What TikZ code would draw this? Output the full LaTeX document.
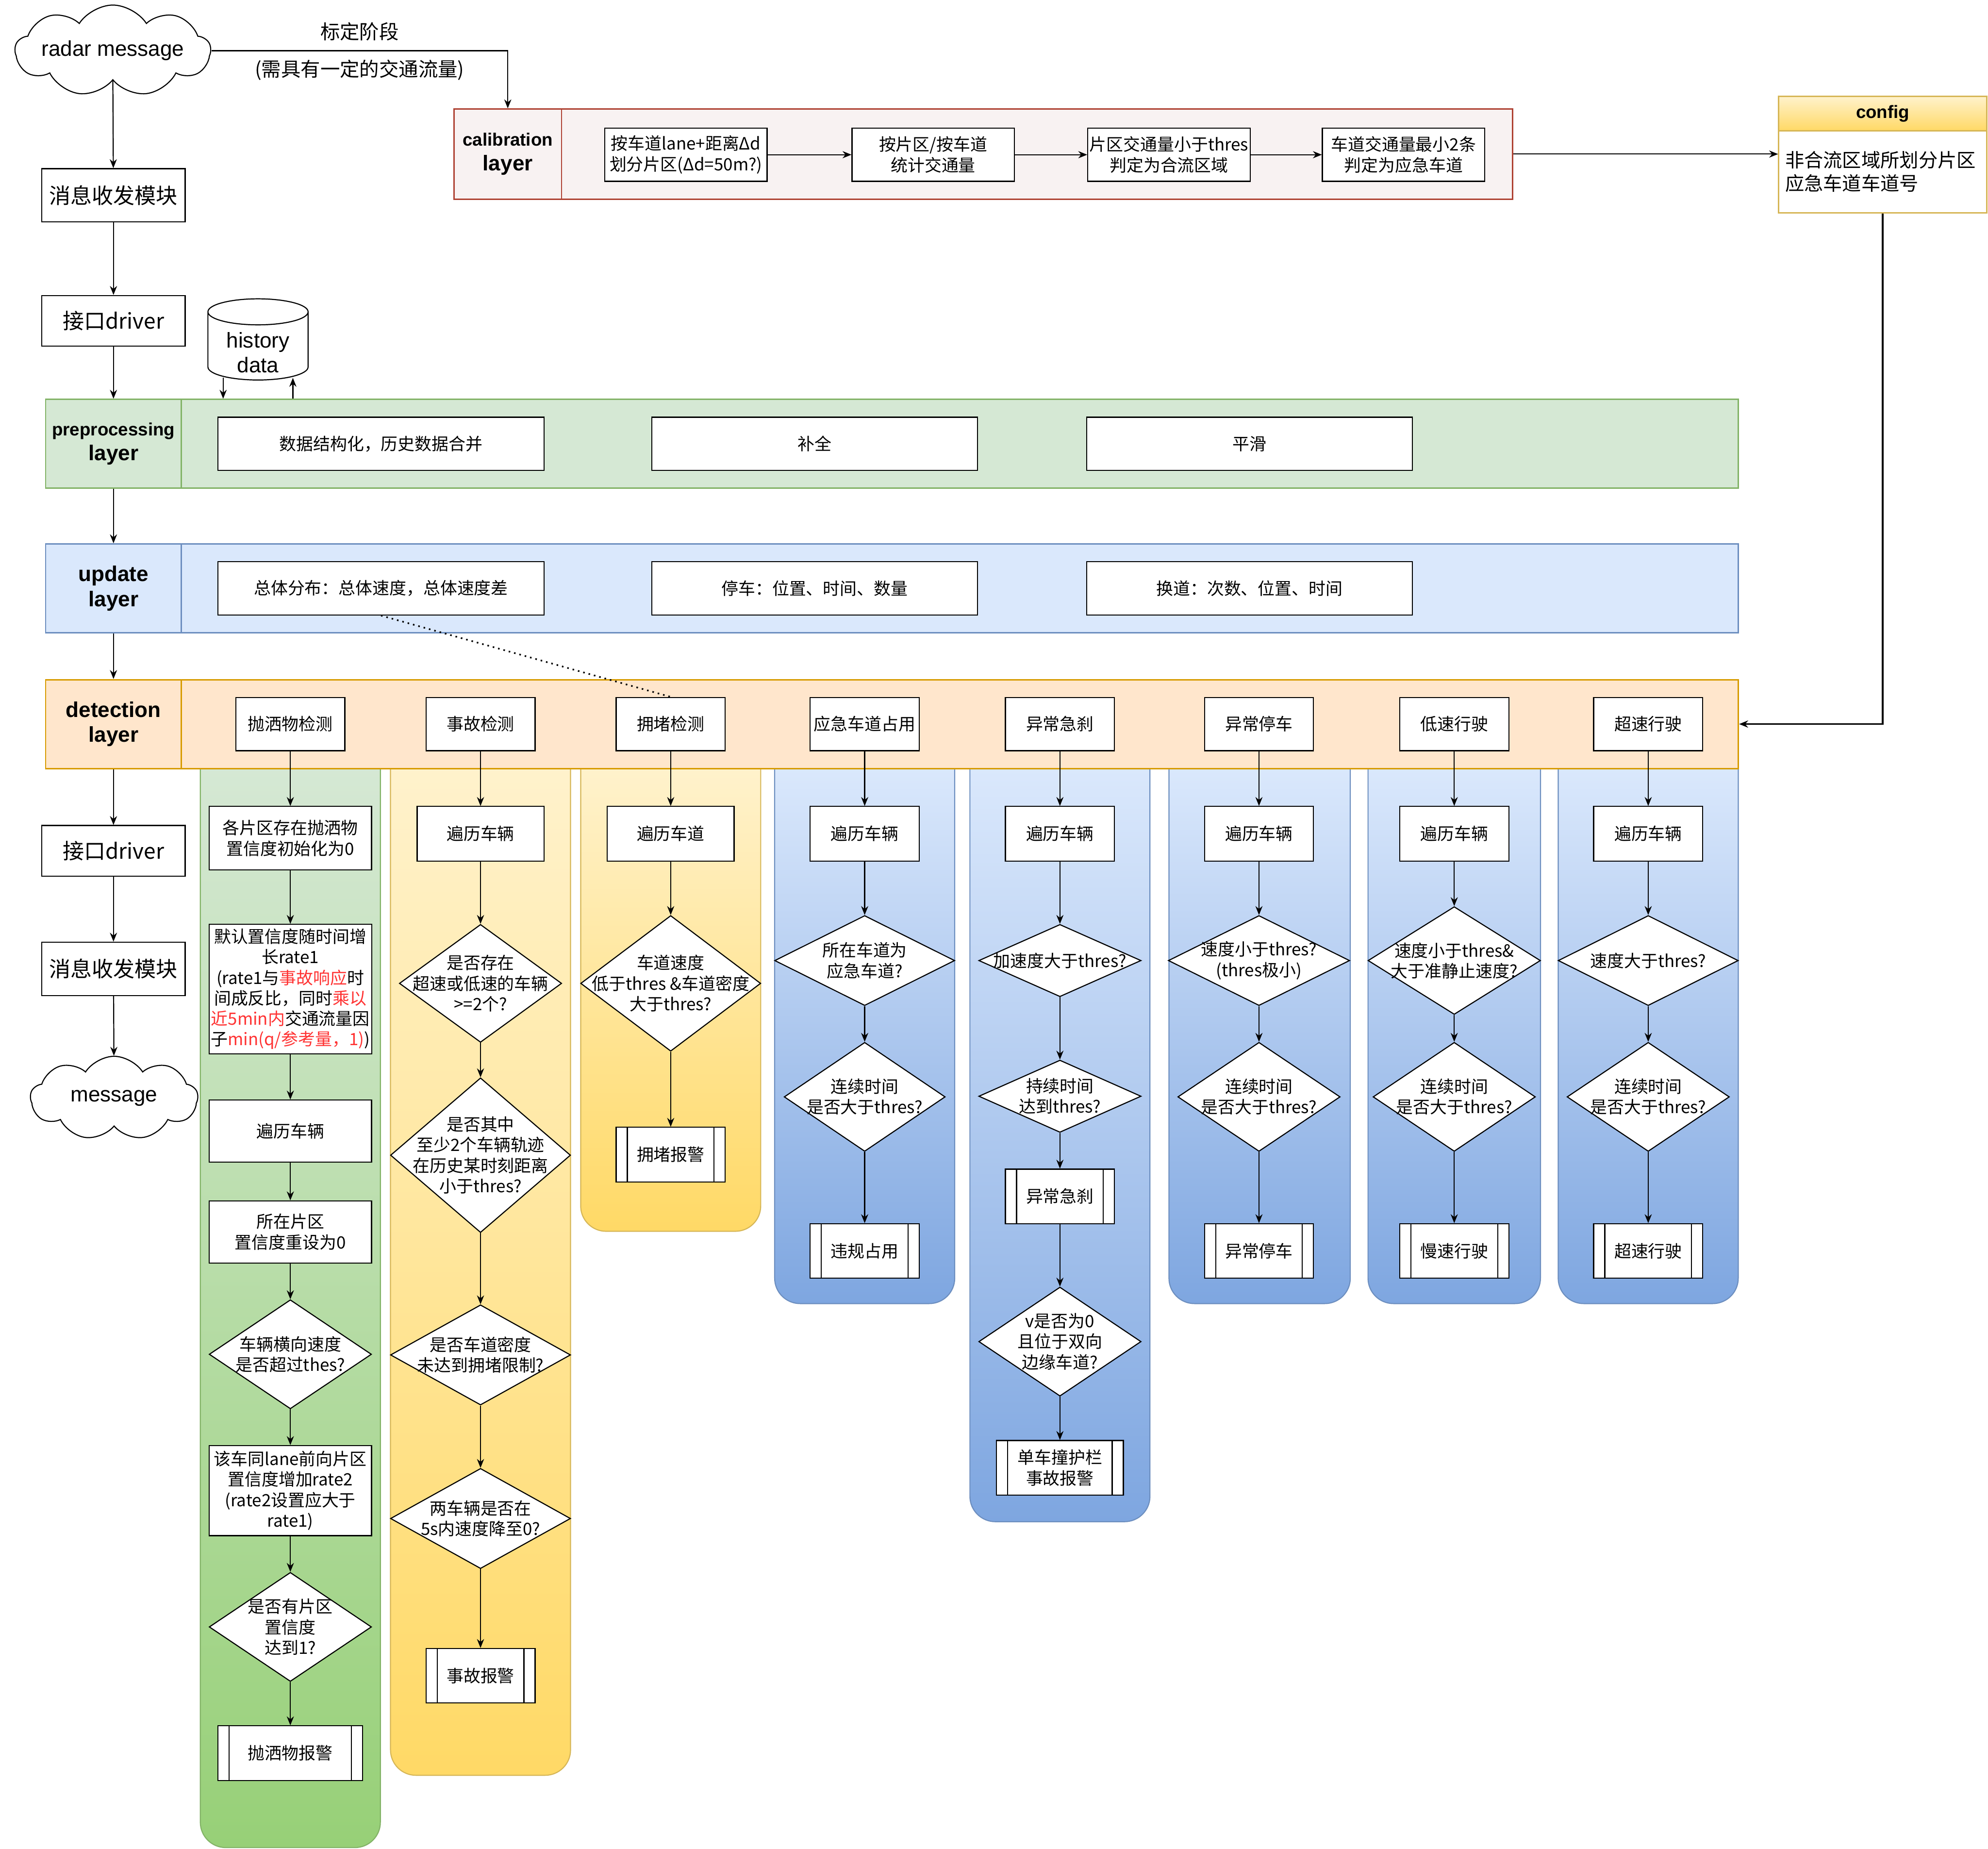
\documentclass[tikz,border=0pt]{standalone}
\usepackage{fontspec}
\setmainfont{Noto Sans CJK SC}
\newfontfamily\arial{Liberation Sans}
\usepackage{xcolor}
\usetikzlibrary{shapes.geometric, shapes.symbols, arrows.meta}
\definecolor{cal-red}{HTML}{AE4132}
\definecolor{cal-fill}{HTML}{F8F2F2}
\definecolor{pre-green}{HTML}{82B366}
\definecolor{pre-fill}{HTML}{D5E8D4}
\definecolor{lane-green}{HTML}{97D077}
\definecolor{upd-blue}{HTML}{6C8EBF}
\definecolor{upd-fill}{HTML}{DAE8FC}
\definecolor{lane-blue}{HTML}{7EA6E0}
\definecolor{det-orange}{HTML}{D79B00}
\definecolor{det-fill}{HTML}{FFE6CC}
\definecolor{cfg-line}{HTML}{D6B656}
\definecolor{cfg-fill}{HTML}{FFF2CC}
\definecolor{lane-yellow}{HTML}{FFD966}
\definecolor{note-red}{HTML}{FF3333}

\begin{document}
\begin{tikzpicture}[x=0.025cm, y=-0.025cm, line width=0.6pt,
    >={Stealth[length=5pt, width=4pt]},
    every node/.style={font=\fontsize{9.5}{11.5}\selectfont},
    box/.style={draw, fill=white, align=center, inner sep=1pt, minimum height=1.05cm},
    alarm/.style={box, minimum height=1.075cm, path picture={
        \draw ([xshift=0.22cm]path picture bounding box.north west) -- ([xshift=0.22cm]path picture bounding box.south west)
              ([xshift=-0.22cm]path picture bounding box.north east) -- ([xshift=-0.22cm]path picture bounding box.south east);}},
    decide/.style={diamond, draw, fill=white, inner sep=0pt},
    say/.style={align=center, inner sep=0pt},
    bigtxt/.style={font=\fontsize{12}{14}\selectfont},
    lanelab/.style={draw, line width=0.8pt, align=center, minimum width=2.675cm, minimum height=1.75cm,
        font=\arial\bfseries\fontsize{12}{14}\selectfont},
    band/.style={draw, line width=0.8pt, minimum width=30.7cm, minimum height=1.75cm},
    greenlane/.style={draw=pre-green, top color=pre-fill, bottom color=lane-green, rounded corners=0.5cm},
    yellowlane/.style={draw=cfg-line, top color=cfg-fill, bottom color=lane-yellow, rounded corners=0.5cm},
    bluelane/.style={draw=upd-blue, top color=upd-fill, bottom color=lane-blue, rounded corners=0.5cm}]
  \useasboundingbox (0,0) rectangle (1568,1458);

  % swimlanes under the detection layer
  \draw[greenlane] (158,606) -- (158,1457) -- (300,1457) -- (300,606);
  \draw[yellowlane] (308,606) -- (308,1400) -- (450,1400) -- (450,606);
  \draw[yellowlane] (458,606) -- (458,971) -- (600,971) -- (600,606);
  \draw[bluelane] (611,606) -- (611,1028) -- (753,1028) -- (753,606);
  \draw[bluelane] (765,606) -- (765,1200) -- (907,1200) -- (907,606);
  \draw[bluelane] (922,606) -- (922,1028) -- (1065,1028) -- (1065,606);
  \draw[bluelane] (1079,606) -- (1079,1028) -- (1215,1028) -- (1215,606);
  \draw[bluelane] (1229,606) -- (1229,1028) -- (1371,1028) -- (1371,606);

  % left column
  \node[cloud, draw, cloud puffs=9, cloud puff arc=115, cloud ignores aspect, inner sep=0pt,
    minimum width=3.85cm, minimum height=1.8cm,
    label={[say, font=\arial\fontsize{12}{14}\selectfont]center:radar message}] (radar) at (89,40) {};
  \node[box, bigtxt, minimum width=2.825cm] (msg1) at (89.5,154) {消息收发模块};
  \node[box, bigtxt, minimum width=2.825cm, minimum height=1cm] (drv1) at (89.5,253) {接口driver};
  \node[cylinder, draw, fill=white, shape border rotate=90, aspect=0.27, inner sep=0pt,
    minimum width=1.975cm, minimum height=1.6cm,
    label={[say, yshift=-0.125cm, font=\arial\fontsize{12}{14}\selectfont]center:{history\\data}}]
    (hist) at (203.5,273) {\rule{1.9cm}{0pt}};
  \coordinate (hin) at (176,298);
  \coordinate (hout) at (231,298);

  % calibration layer
  \node[lanelab, draw=cal-red, fill=cal-fill, minimum width=2.125cm, minimum height=1.775cm]
    (callab) at (400.5,121.5) {{\fontsize{10}{12}\selectfont calibration}\\layer};
  \node[band, draw=cal-red, fill=cal-fill, minimum width=18.75cm, minimum height=1.775cm] (cal) at (818,121.5) {};
  \node[box, minimum width=3.2cm] (cal1) at (541,122) {按车道lane+距离Δd\\划分片区(Δd=50m?)};
  \node[box, minimum width=3.2cm] (cal2) at (736,122) {按片区/按车道\\统计交通量};
  \node[box, minimum width=3.2cm] (cal3) at (922,122) {片区交通量小于thres\\判定为合流区域};
  \node[box, minimum width=3.2cm] (cal4) at (1107,122) {车道交通量最小2条\\判定为应急车道};

  % config
  \node[draw=cfg-line, line width=0.8pt, top color=cfg-fill, bottom color=lane-yellow, minimum width=4.1cm,
    minimum height=0.675cm, font=\arial\bfseries\fontsize{10}{12}\selectfont] (cfgh) at (1485,89.5) {config};
  \node[draw=cfg-line, line width=0.8pt, fill=white, minimum width=4.1cm, minimum height=1.625cm,
    text width=3.85cm, align=left, font=\fontsize{10.7}{13}\selectfont] (cfg) at (1485,135.5)
    {非合流区域所划分片区\\应急车道车道号};

  % preprocessing layer
  \node[lanelab, draw=pre-green, fill=pre-fill] (prel) at (89.5,350)
    {{\fontsize{10}{12}\selectfont preprocessing}\\layer};
  \node[band, draw=pre-green, fill=pre-fill] (pre) at (757,350) {};
  \node[box, minimum width=6.425cm] (pre1) at (300.5,350) {数据结构化，历史数据合并};
  \node[box, minimum width=6.425cm] (pre2) at (642.5,350) {补全};
  \node[box, minimum width=6.425cm] (pre3) at (985.5,350) {平滑};

  % update layer
  \node[lanelab, draw=upd-blue, fill=upd-fill] (updl) at (89.5,464) {update\\layer};
  \node[band, draw=upd-blue, fill=upd-fill] (upd) at (757,464) {};
  \node[box, minimum width=6.425cm] (upd1) at (300.5,464) {总体分布：总体速度，总体速度差};
  \node[box, minimum width=6.425cm] (upd2) at (642.5,464) {停车：位置、时间、数量};
  \node[box, minimum width=6.425cm] (upd3) at (985.5,464) {换道：次数、位置、时间};

  % detection layer
  \node[lanelab, draw=det-orange, fill=det-fill] (detl) at (89.5,571) {detection\\layer};
  \node[band, draw=det-orange, fill=det-fill] (det) at (757,571) {};
  \node[box, minimum width=2.15cm] (det1) at (229,571) {抛洒物检测};
  \node[box, minimum width=2.15cm] (det2) at (379,571) {事故检测};
  \node[box, minimum width=2.15cm] (det3) at (529,571) {拥堵检测};
  \node[box, minimum width=2.15cm] (det4) at (682,571) {应急车道占用};
  \node[box, minimum width=2.15cm] (det5) at (836,571) {异常急刹};
  \node[box, minimum width=2.15cm] (det6) at (993,571) {异常停车};
  \node[box, minimum width=2.15cm] (det7) at (1147,571) {低速行驶};
  \node[box, minimum width=2.15cm] (det8) at (1300,571) {超速行驶};

  \node[box, bigtxt, minimum width=2.825cm, minimum height=1cm] (drv2) at (89.5,671) {接口driver};
  \node[box, bigtxt, minimum width=2.825cm] (msg2) at (89.5,764) {消息收发模块};
  \node[cloud, draw, cloud puffs=9, cloud puff arc=115, cloud ignores aspect, inner sep=0pt,
    minimum width=3.3cm, minimum height=1.65cm,
    label={[say, font=\arial\fontsize{12}{14}\selectfont]center:message}] (msgc) at (90,866) {};

  % 抛洒物
  \node[box, minimum width=3.2cm, minimum height=1.25cm] (a1) at (229,661) {各片区存在抛洒物\\置信度初始化为0};
  \node[box, minimum width=3.2cm, minimum height=2.55cm] (a2) at (229,780)
    {默认置信度随时间增\\长rate1\\(rate1与\textcolor{note-red}{事故响应}时\\间成反比，同时\textcolor{note-red}{乘以}\\
     \textcolor{note-red}{近5min内}交通流量因\\子\textcolor{note-red}{min(q/参考量，1)})};
  \node[box, minimum width=3.2cm, minimum height=1.225cm] (a3) at (229,892) {遍历车辆};
  \node[box, minimum width=3.2cm, minimum height=1.225cm] (a4) at (229,971.5) {所在片区\\置信度重设为0};
  \node[decide, minimum width=3.2cm, minimum height=2.15cm,
    label={[say]center:{车辆横向速度\\是否超过thes?}}] (a5) at (229,1068) {};
  \node[box, minimum width=3.2cm, minimum height=1.775cm] (a6) at (229,1175.5)
    {该车同lane前向片区\\置信度增加rate2\\(rate2设置应大于\\rate1)};
  \node[decide, minimum width=3.2cm, minimum height=2.15cm,
    label={[say]center:{是否有片区\\置信度\\达到1?}}] (a7) at (229,1283) {};
  \node[alarm, minimum width=2.85cm] (a8) at (229,1382.5) {抛洒物报警};

  % 事故
  \node[box, minimum width=2.5cm, minimum height=1.075cm] (b1) at (379,657.5) {遍历车辆};
  \node[decide, minimum width=3.2cm, minimum height=2.325cm,
    label={[say]center:{是否存在\\超速或低速的车辆\\>=2个?}}] (b2) at (379,775.5) {};
  \node[decide, minimum width=3.55cm, minimum height=3.05cm,
    label={[say]center:{是否其中\\至少2个车辆轨迹\\在历史某时刻距离\\小于thres?}}] (b3) at (379,911) {};
  \node[decide, minimum width=3.55cm, minimum height=1.975cm,
    label={[say]center:{是否车道密度\\未达到拥堵限制?}}] (b4) at (379,1068.5) {};
  \node[decide, minimum width=3.55cm, minimum height=1.975cm,
    label={[say]center:{两车辆是否在\\5s内速度降至0?}}] (b5) at (379,1197.5) {};
  \node[alarm, minimum width=2.15cm] (b6) at (379,1321.5) {事故报警};

  % 拥堵
  \node[box, minimum width=2.5cm, minimum height=1.075cm] (c1) at (529,657.5) {遍历车道};
  \node[decide, minimum width=3.55cm, minimum height=2.675cm,
    label={[say]center:{车道速度\\低于thres \&车道密度\\大于thres?}}] (c2) at (529,775.5) {};
  \node[alarm, minimum width=2.15cm] (c3) at (529,910.5) {拥堵报警};

  % 应急车道占用
  \node[box, minimum width=2.15cm, minimum height=1.075cm] (d1) at (682,657.5) {遍历车辆};
  \node[decide, minimum width=3.55cm, minimum height=1.775cm,
    label={[say]center:{所在车道为\\应急车道?}}] (d2) at (682,757.5) {};
  \node[decide, minimum width=3.175cm, minimum height=2.15cm,
    label={[say]center:{连续时间\\是否大于thres?}}] (d3) at (682,865) {};
  \node[alarm, minimum width=2.15cm] (d4) at (682,986.5) {违规占用};

  % 异常急刹
  \node[box, minimum width=2.15cm, minimum height=1.075cm] (e1) at (836,657.5) {遍历车辆};
  \node[decide, minimum width=3.2cm, minimum height=1.425cm,
    label={[say]center:{加速度大于thres?}}] (e2) at (836,757.5) {};
  \node[decide, minimum width=3.2cm, minimum height=1.425cm,
    label={[say]center:{持续时间\\达到thres?}}] (e3) at (836,864.5) {};
  \node[alarm, minimum width=2.15cm] (e4) at (836,943.5) {异常急刹};
  \node[decide, minimum width=3.2cm, minimum height=2.15cm,
    label={[say]center:{v是否为0\\且位于双向\\边缘车道?}}] (e5) at (836,1058) {};
  \node[alarm, minimum width=2.5cm] (e6) at (836,1157.5) {单车撞护栏\\事故报警};

  % 异常停车
  \node[box, minimum width=2.15cm, minimum height=1.075cm] (f1) at (993,657.5) {遍历车辆};
  \node[decide, minimum width=3.575cm, minimum height=1.775cm,
    label={[say]center:{速度小于thres?\\(thres极小)}}] (f2) at (993,757.5) {};
  \node[decide, minimum width=3.2cm, minimum height=2.15cm,
    label={[say]center:{连续时间\\是否大于thres?}}] (f3) at (993,865) {};
  \node[alarm, minimum width=2.15cm] (f4) at (993,986.5) {异常停车};

  % 低速行驶
  \node[box, minimum width=2.15cm, minimum height=1.075cm] (g1) at (1147,657.5) {遍历车辆};
  \node[decide, minimum width=3.4cm, minimum height=2.125cm,
    label={[say]center:{速度小于thres\&\\大于准静止速度?}}] (g2) at (1147,757.5) {};
  \node[decide, minimum width=3.2cm, minimum height=2.15cm,
    label={[say]center:{连续时间\\是否大于thres?}}] (g3) at (1147,865) {};
  \node[alarm, minimum width=2.15cm] (g4) at (1147,986.5) {慢速行驶};

  % 超速行驶
  \node[box, minimum width=2.15cm, minimum height=1.075cm] (h1) at (1300,657.5) {遍历车辆};
  \node[decide, minimum width=3.55cm, minimum height=1.775cm,
    label={[say]center:{速度大于thres?}}] (h2) at (1300,757.5) {};
  \node[decide, minimum width=3.2cm, minimum height=2.15cm,
    label={[say]center:{连续时间\\是否大于thres?}}] (h3) at (1300,865) {};
  \node[alarm, minimum width=2.15cm] (h4) at (1300,986.5) {超速行驶};

  % connectors
  \draw[->] (radar.east) -| (callab.north)
    node[pos=0.25, above=2pt, font=\fontsize{11}{13}\selectfont] {标定阶段}
    node[pos=0.25, below=1.5pt, font=\fontsize{11}{13}\selectfont] {(需具有一定的交通流量)};
  \draw[->] (cal1) -- (cal2);
  \draw[->] (cal2) -- (cal3);
  \draw[->] (cal3) -- (cal4);
  \draw[->] (cal.east) -- (cal.east -| cfg.west);
  \draw[->, line width=1pt] (cfg.south) |- (det.east);
  \draw[->] (radar.south) -- (msg1);
  \draw[->] (msg1) -- (drv1);
  \draw[->] (drv1) -- (prel);
  \draw[->] (hin) -- (hin |- pre.north);
  \draw[->] (hout |- pre.north) -- (hout);
  \draw[->] (prel) -- (updl);
  \draw[->] (updl) -- (detl);
  \draw[->] (detl) -- (drv2);
  \draw[->] (drv2) -- (msg2);
  \draw[->] (msg2) -- (msgc);
  \draw[line width=0.9pt, dash pattern=on 0.9pt off 2.2pt] (upd1.south) -- (det3.north);
  \foreach \u/\v in {det1/a1, a1/a2, a2/a3, a3/a4, a4/a5, a5/a6, a6/a7, a7/a8,
      det2/b1, b1/b2, b2/b3, b3/b4, b4/b5, b5/b6, det3/c1, c1/c2, c2/c3,
      det4/d1, d1/d2, d2/d3, d3/d4, det5/e1, e1/e2, e2/e3, e3/e4, e4/e5, e5/e6,
      det6/f1, f1/f2, f2/f3, f3/f4, det7/g1, g1/g2, g2/g3, g3/g4,
      det8/h1, h1/h2, h2/h3, h3/h4}
    \draw[->] (\u) -- (\v);
\end{tikzpicture}
\end{document}
